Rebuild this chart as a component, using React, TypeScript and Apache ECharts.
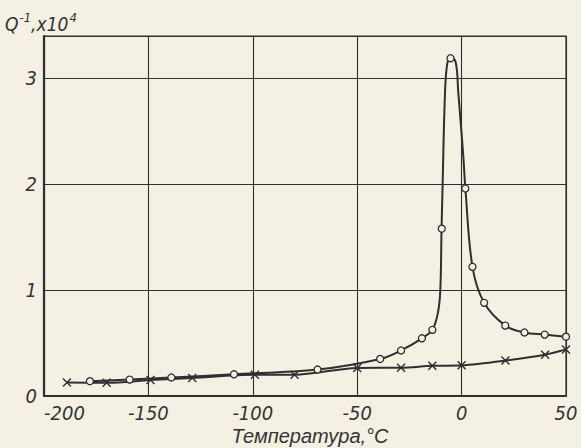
import React, { useEffect, useRef } from "react";
import * as echarts from "echarts";

// Upper curve (circles): measured points
const circleT = [-178, -159, -139, -109, -69, -39, -29, -19, -14, -9.5, -5.3, 1.8, 5.2, 10.8, 20.9, 30.1, 39.8, 50];
const circleQ = [0.14, 0.155, 0.175, 0.205, 0.25, 0.35, 0.43, 0.545, 0.625, 1.58, 3.19, 1.96, 1.22, 0.88, 0.665, 0.6, 0.58, 0.56];

// Drawn curve through the circles
const curveT = [-178, -159, -139, -109, -69, -39, -29, -19, -14, -11.4, -10.2, -9.6, -9.1, -8.2, -7.2, -5.3, -2.8, -1.6, -0.3, 0.9, 1.8, 5.2, 10.8, 20.9, 30.1, 39.8, 50];
const curveQ = [0.14, 0.155, 0.175, 0.205, 0.25, 0.35, 0.43, 0.545, 0.625, 0.78, 1.0, 1.58, 1.99, 2.71, 3.09, 3.21, 3.15, 2.87, 2.55, 2.24, 1.96, 1.22, 0.88, 0.665, 0.6, 0.58, 0.56];

// Lower curve (crosses)
const crossT = [-189, -170, -149, -129, -99, -80, -50, -29, -14, 0, 21, 40, 50];
const crossQ = [0.127, 0.125, 0.15, 0.17, 0.2, 0.2, 0.265, 0.267, 0.285, 0.29, 0.335, 0.39, 0.44];

const xTicks = [-200, -150, -100, -50, 0, 50];
const yTicks = [0, 1, 2, 3];
const yMax = 3.4;

const BG = "#f4f0e3";
const INK = "#2f2f2f";
const NUM_FONT = "'Liberation Sans Narrow', 'DejaVu Sans Condensed', 'Liberation Sans', sans-serif";
const TXT_FONT = "'Liberation Sans', 'DejaVu Sans', sans-serif";

export default function App() {
  const ref = useRef<HTMLDivElement>(null);
  useEffect(() => {
    if (!ref.current) return;
    const chart = echarts.init(ref.current, undefined, { renderer: "svg" });
    const zip = (a: number[], b: number[]) => a.map((v, i) => [v, b[i]]);
    chart.setOption({
      animation: false,
      backgroundColor: BG,
      grid: {
        left: 44,
        right: 15,
        top: 36,
        bottom: 52,
        show: true,
        borderColor: INK,
        borderWidth: 1.2,
        backgroundColor: "transparent",
      },
      xAxis: {
        type: "value",
        min: xTicks[0],
        max: xTicks[xTicks.length - 1],
        interval: 50,
        axisLine: { show: true, onZero: false, lineStyle: { color: INK, width: 2.2 } },
        axisTick: { show: false },
        splitLine: { show: true, lineStyle: { color: INK, width: 1.1 } },
        axisLabel: {
          color: "#333",
          fontSize: 20,
          fontStyle: "italic",
          fontFamily: NUM_FONT,
          margin: 7,
          alignMinLabel: "left",
          formatter: (v: number) => (v < 0 ? "-" + Math.abs(v) : String(v)),
        },
      },
      yAxis: {
        type: "value",
        min: yTicks[0],
        max: yMax,
        interval: 1,
        axisLine: { show: true, onZero: false, lineStyle: { color: INK, width: 2.2 } },
        axisTick: { show: false },
        splitLine: { show: true, lineStyle: { color: INK, width: 1.2 } },
        axisLabel: {
          color: "#333",
          fontSize: 20,
          fontStyle: "italic",
          fontFamily: NUM_FONT,
          margin: 7,
          showMaxLabel: false,
          formatter: (v: number) => (yTicks.indexOf(v) >= 0 ? String(v) : ""),
        },
      },
      graphic: [
        {
          type: "text",
          left: 5,
          top: 11,
          style: {
            text: "{a|Q}{s|-1}{a|,x10}{s|4}",
            rich: {
              a: { fontSize: 19, fontStyle: "italic", fontFamily: NUM_FONT, fill: "#333" },
              s: { fontSize: 13, fontStyle: "italic", fontFamily: NUM_FONT, fill: "#333", padding: [0, 0, 12, 1] },
            },
          },
        },
        {
          type: "text",
          x: 310,
          y: 436,
          style: {
            text: "Температура,°С",
            fontSize: 20,
            fontStyle: "italic",
            fontFamily: TXT_FONT,
            fill: "#333",
            align: "center",
            verticalAlign: "middle",
          },
        },
      ],
      series: [
        {
          type: "line",
          data: zip(curveT, curveQ),
          smooth: 0.35,
          symbol: "none",
          lineStyle: { color: INK, width: 2 },
          z: 2,
        },
        {
          type: "line",
          data: zip(crossT, crossQ),
          smooth: 0.3,
          symbol: "path://M0,0L10,10M10,0L0,10",
          symbolSize: 8,
          itemStyle: { color: "rgba(0,0,0,0)", borderColor: INK, borderWidth: 1.4 },
          lineStyle: { color: INK, width: 2 },
          z: 3,
        },
        {
          type: "scatter",
          data: zip(circleT, circleQ),
          symbol: "circle",
          symbolSize: 7,
          itemStyle: { color: BG, borderColor: INK, borderWidth: 1.3, opacity: 1 },
          z: 4,
        },
      ],
    });
    return () => chart.dispose();
  }, []);
  return (
    <div
      ref={ref}
      style={{ position: "fixed", left: 0, top: 0, width: 581, height: 448, background: BG }}
    />
  );
}
